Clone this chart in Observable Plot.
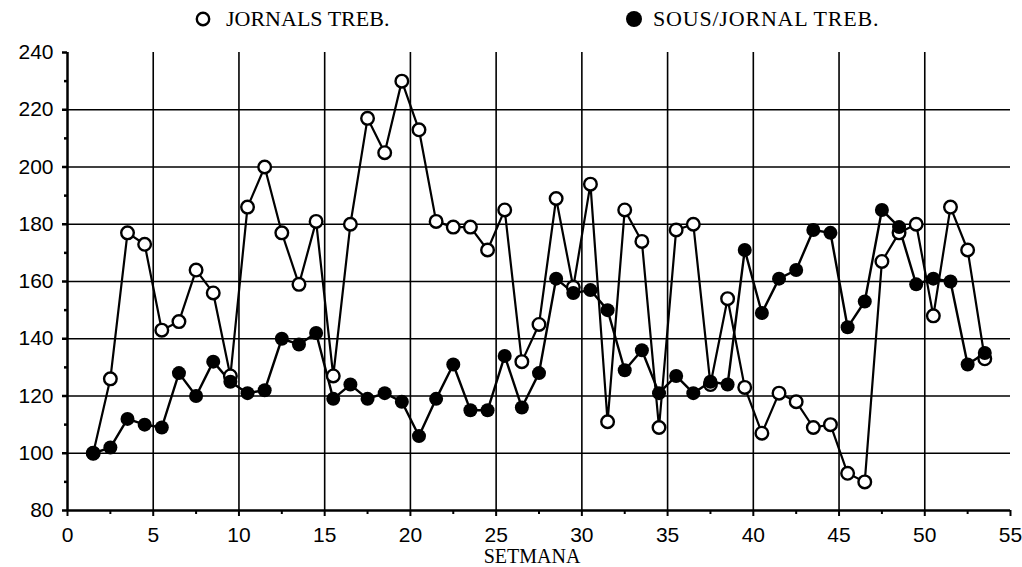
<!DOCTYPE html>
<html>
<head>
<meta charset="utf-8">
<script src="https://cdn.jsdelivr.net/npm/d3@7"></script>
<script src="https://cdn.jsdelivr.net/npm/@observablehq/plot@0.6"></script>
<style>
  html, body { margin: 0; padding: 0; background: #fff; }
  #wrap { width: 1022px; height: 567px; position: relative; overflow: hidden; }
  #legend { position: relative; width: 1022px; height: 36px; font-family: "Liberation Serif", "DejaVu Serif", serif; font-size: 22px; color: #000; }
  .item { position: absolute; top: 6px; display: flex; align-items: center; white-space: nowrap; }
</style>
</head>
<body>
<div id="wrap">
  <div id="legend">
    <div class="item" style="left:195px"><svg width="16" height="16" style="margin-right:15px"><circle cx="8" cy="8" r="6.2" fill="#fff" stroke="#000" stroke-width="2.4"/></svg><span>JORNALS TREB.</span></div>
    <div class="item" style="left:625px"><svg width="18" height="18" style="margin-right:10px"><circle cx="9" cy="9" r="8" fill="#000"/></svg><span style="letter-spacing:0.8px">SOUS/JORNAL TREB.</span></div>
  </div>
  <div id="chart"></div>
</div>
<script>
const weeks = [1.5,2.5,3.5,4.5,5.5,6.5,7.5,8.5,9.5,10.5,11.5,12.5,13.5,14.5,15.5,16.5,17.5,18.5,19.5,20.5,21.5,22.5,23.5,24.5,25.5,26.5,27.5,28.5,29.5,30.5,31.5,32.5,33.5,34.5,35.5,36.5,37.5,38.5,39.5,40.5,41.5,42.5,43.5,44.5,45.5,46.5,47.5,48.5,49.5,50.5,51.5,52.5,53.5];
const jornals = [100,126,177,173,143,146,164,156,127,186,200,177,159,181,127,180,217,205,230,213,181,179,179,171,185,132,145,189,158,194,111,185,174,109,178,180,124,154,123,107,121,118,109,110,93,90,167,177,180,148,186,171,133];
const sous = [100,102,112,110,109,128,120,132,125,121,122,140,138,142,119,124,119,121,118,106,119,131,115,115,134,116,128,161,156,157,150,129,136,121,127,121,125,124,171,149,161,164,178,177,144,153,185,179,159,161,160,131,135];
const xTicks = [0,5,10,15,20,25,30,35,40,45,50,55];
const xMinor = [2.5,7.5,12.5,17.5,22.5,27.5,32.5,37.5,42.5,47.5,52.5];
const yTicks = [80,100,120,140,160,180,200,220,240];
const yMinor = [90,110,130,150,170,190,210,230];
const xGrid = [5,10,15,20,25,30,35,40,45,50];
const yGrid = [100,120,140,160,180,200,220];
const xLabel = "SETMANA";

const dJ = weeks.map((w, i) => ({week: w, value: jornals[i]}));
const dS = weeks.map((w, i) => ({week: w, value: sous[i]}));

const sans = "Liberation Sans, Arial, sans-serif";
const serif = "Liberation Serif, Times New Roman, serif";

const chart = Plot.plot({
  width: 1022,
  height: 531,
  marginLeft: 67,
  marginRight: 12,
  marginTop: 16,
  marginBottom: 57,
  style: {background: "#fff", overflow: "visible", color: "#000"},
  x: {domain: [0, 55]},
  y: {domain: [80, 240]},
  marks: [
    Plot.ruleX(xGrid, {y1: 80, y2: 240, stroke: "#000", strokeWidth: 1.6}),
    Plot.ruleY(yGrid, {x1: 0, x2: 55, stroke: "#000", strokeWidth: 1.6}),
    Plot.ruleX([0], {y1: 80, y2: 240, stroke: "#000", strokeWidth: 2.5}),
    Plot.ruleY([80], {x1: 0, x2: 55, stroke: "#000", strokeWidth: 2.5}),
    Plot.axisX(xTicks, {tickSize: 6, tickPadding: 11, strokeWidth: 2, fontSize: 21, fontFamily: sans, label: null}),
    Plot.axisX(xMinor, {tickSize: 4, strokeWidth: 2, text: null, label: null}),
    Plot.axisY(yTicks, {tickSize: 5, tickPadding: 9, strokeWidth: 2.5, fontSize: 21, fontFamily: sans, label: null}),
    Plot.axisY(yMinor, {tickSize: 3, strokeWidth: 2.5, text: null, label: null}),
    Plot.text([xLabel], {frameAnchor: "bottom", lineAnchor: "bottom", dy: 52, dx: -7, fontSize: 20, fontFamily: serif, fill: "#000"}),
    Plot.line(dJ, {x: "week", y: "value", stroke: "#000", strokeWidth: 2.2}),
    Plot.line(dS, {x: "week", y: "value", stroke: "#000", strokeWidth: 2.4}),
    Plot.dot(dJ, {x: "week", y: "value", r: 6.3, fill: "#fff", stroke: "#000", strokeWidth: 2.4}),
    Plot.dot(dS, {x: "week", y: "value", r: 7, fill: "#000", stroke: "#000", strokeWidth: 0})
  ]
});
document.getElementById("chart").appendChild(chart);
</script>
</body>
</html>
